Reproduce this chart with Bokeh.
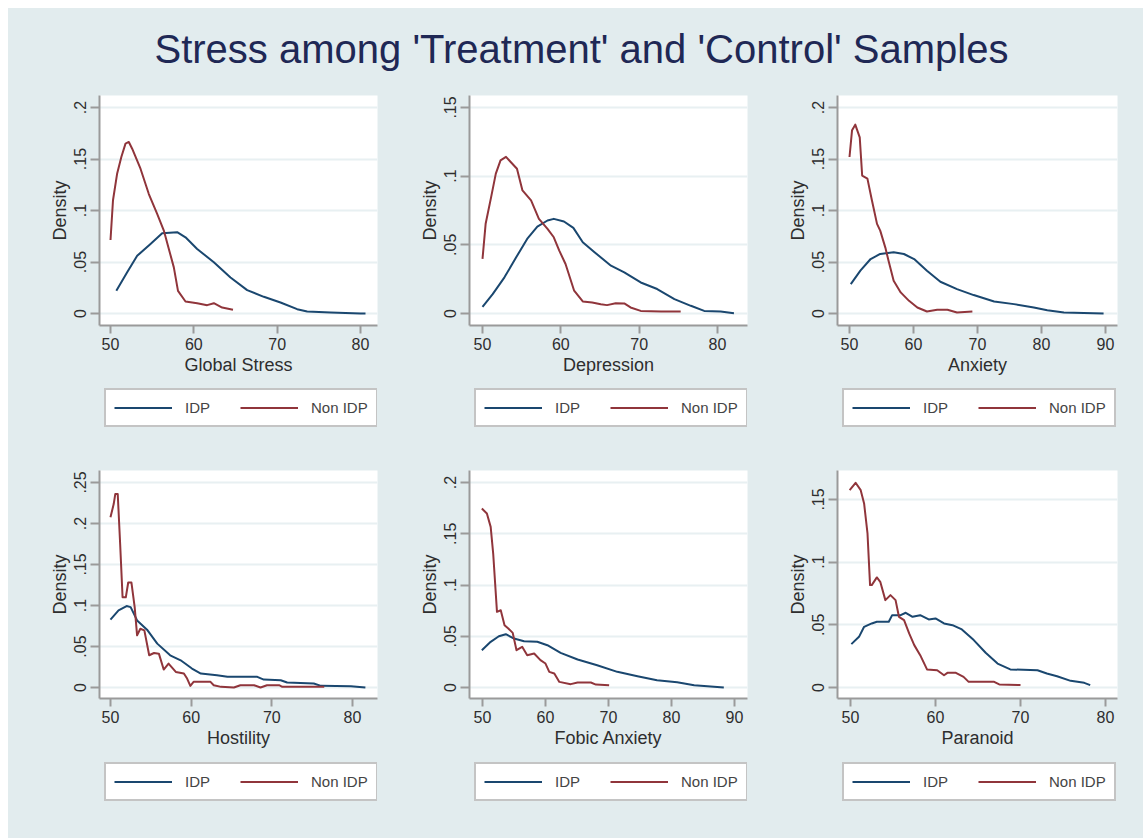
from bokeh.plotting import figure
from bokeh.models import Range1d, FixedTicker, Legend, LegendItem, Label, CustomJSTickFormatter
from bokeh.layouts import column, row
from bokeh.embed import file_html
from bokeh.resources import INLINE

TITLE = "Stress among 'Treatment' and 'Control' Samples"
SERIES = ["IDP", "Non IDP"]
Y_LABEL = "Density"

# ---- Global Stress ----
gs_idp_x = [50.7, 52.0, 53.2, 54.8, 56.2, 58.0, 59.0, 60.4, 62.4, 64.4, 66.4, 68.4, 70.4, 72.4, 73.6, 76.4, 80.0, 80.6]
gs_idp_y = [0.022, 0.040, 0.056, 0.0675, 0.078, 0.079, 0.074, 0.0627, 0.0497, 0.035, 0.0227, 0.0162, 0.0107, 0.0042, 0.002, 0.001, 0.0, 0.0]
gs_non_x = [50.0, 50.3, 50.8, 51.3, 51.8, 52.2, 52.6, 53.6, 54.6, 55.6, 56.4, 57.0, 57.6, 58.1, 59.0, 60.4, 61.6, 62.4, 63.4, 64.7]
gs_non_y = [0.0714, 0.11, 0.136, 0.152, 0.165, 0.1666, 0.16, 0.1406, 0.116, 0.0968, 0.0805, 0.0627, 0.0448, 0.022, 0.0117, 0.01, 0.0081, 0.01, 0.0058, 0.0036]

# ---- Depression ----
dp_idp_x = [50.0, 51.3, 52.8, 54.3, 55.7, 57.0, 58.3, 59.1, 60.4, 61.6, 62.8, 64.3, 66.4, 68.1, 70.2, 72.3, 74.5, 76.6, 78.3, 80.4, 82.1]
dp_idp_y = [0.0049, 0.0141, 0.0263, 0.0409, 0.0543, 0.0633, 0.0677, 0.0689, 0.067, 0.0623, 0.0519, 0.0446, 0.0348, 0.03, 0.0226, 0.0178, 0.0105, 0.0056, 0.0019, 0.0015, 0.0002]
dp_non_x = [50.0, 50.4, 51.1, 51.7, 52.3, 53.0, 53.6, 54.4, 55.1, 56.2, 57.2, 58.3, 59.1, 59.8, 60.6, 61.7, 62.8, 64.0, 65.1, 65.9, 67.0, 68.1, 68.9, 70.2, 72.8, 75.3]
dp_non_y = [0.0397, 0.0653, 0.0847, 0.1018, 0.1115, 0.114, 0.1103, 0.1054, 0.0896, 0.0823, 0.0689, 0.0616, 0.0555, 0.0458, 0.036, 0.0166, 0.0088, 0.008, 0.0068, 0.0061, 0.0075, 0.0073, 0.0044, 0.0019, 0.0015, 0.0015]

# ---- Anxiety ----
ax_idp_x = [50.2, 51.7, 53.3, 54.8, 56.9, 58.5, 60.1, 62.1, 64.2, 66.8, 69.4, 72.6, 75.7, 78.8, 80.9, 83.5, 89.7]
ax_idp_y = [0.0286, 0.0416, 0.0529, 0.0578, 0.0594, 0.0578, 0.0529, 0.0416, 0.0308, 0.0237, 0.0179, 0.0117, 0.0091, 0.0058, 0.0032, 0.001, 0.0]
ax_non_x = [50.0, 50.4, 50.9, 51.6, 51.98, 52.8, 53.5, 54.3, 54.8, 55.6, 56.1, 56.9, 58.0, 59.3, 60.6, 62.1, 63.7, 65.3, 66.8, 69.2]
ax_non_y = [0.152, 0.178, 0.1834, 0.171, 0.134, 0.131, 0.11, 0.087, 0.0805, 0.064, 0.0513, 0.0318, 0.0205, 0.0123, 0.0058, 0.0019, 0.0036, 0.0036, 0.001, 0.0019]

# ---- Hostility ----
ho_idp_x = [50.0, 51.0, 52.0, 52.5, 53.3, 54.6, 55.8, 57.4, 58.7, 60.1, 61.2, 63.2, 64.5, 68.2, 69.0, 71.1, 71.9, 75.2, 76.1, 79.8, 81.6]
ho_idp_y = [0.0827, 0.094, 0.0993, 0.098, 0.0818, 0.0697, 0.0535, 0.0393, 0.0332, 0.0231, 0.017, 0.015, 0.013, 0.013, 0.0097, 0.0089, 0.0061, 0.0049, 0.002, 0.0016, 0.0]
ho_non_x = [50.0, 50.4, 50.6, 50.9, 51.2, 51.5, 51.9, 52.2, 52.6, 53.0, 53.3, 53.7, 54.2, 54.8, 55.4, 56.0, 56.6, 57.2, 58.1, 59.1, 59.5, 59.9, 60.3, 62.4, 62.8, 63.7, 65.3, 66.1, 67.8, 68.6, 69.4, 70.9, 71.3, 73.6, 76.5]
ho_non_y = [0.2075, 0.2237, 0.236, 0.236, 0.175, 0.11, 0.11, 0.128, 0.128, 0.098, 0.0636, 0.0717, 0.0697, 0.0393, 0.0421, 0.0413, 0.0219, 0.0292, 0.019, 0.017, 0.0109, 0.002, 0.0069, 0.0069, 0.0028, 0.0008, 0.0, 0.0028, 0.0028, 0.0, 0.0028, 0.0028, 0.0008, 0.0008, 0.0008]

# ---- Fobic Anxiety ----
fa_idp_x = [49.9, 51.3, 52.6, 53.7, 55.0, 56.6, 58.7, 60.3, 62.4, 65.1, 68.2, 71.4, 74.6, 77.7, 80.9, 83.6, 88.3]
fa_idp_y = [0.0364, 0.0446, 0.05, 0.052, 0.0478, 0.0452, 0.0446, 0.0413, 0.0338, 0.0273, 0.0218, 0.0153, 0.0111, 0.0072, 0.0052, 0.0023, 0.0]
fa_non_x = [49.9, 50.7, 51.3, 51.7, 52.3, 52.9, 53.5, 54.1, 54.8, 55.4, 56.3, 57.1, 58.2, 59.2, 60.0, 60.6, 61.4, 62.2, 64.0, 65.1, 67.2, 68.0, 70.1]
fa_non_y = [0.1746, 0.1698, 0.1567, 0.1307, 0.0738, 0.0754, 0.0608, 0.0576, 0.0533, 0.0364, 0.0397, 0.0315, 0.0332, 0.0267, 0.0234, 0.0153, 0.0137, 0.0055, 0.0033, 0.0049, 0.0049, 0.0029, 0.0023]

# ---- Paranoid ----
pa_idp_x = [50.1, 51.0, 51.6, 52.5, 53.1, 54.5, 54.9, 55.9, 56.5, 57.3, 58.2, 59.2, 60.0, 61.0, 62.0, 63.1, 64.5, 65.9, 67.3, 68.8, 72.0, 73.1, 74.3, 75.9, 77.5, 78.2]
pa_idp_y = [0.0346, 0.0404, 0.0484, 0.0511, 0.0524, 0.0524, 0.0577, 0.0577, 0.0596, 0.0564, 0.0577, 0.0543, 0.0551, 0.0511, 0.0497, 0.0463, 0.0378, 0.0277, 0.0191, 0.0144, 0.0138, 0.0112, 0.009, 0.0053, 0.0037, 0.0019]
pa_non_x = [49.9, 50.6, 51.2, 51.6, 52.0, 52.3, 52.5, 53.1, 53.5, 54.1, 54.7, 55.3, 55.7, 56.3, 56.9, 57.5, 58.2, 59.0, 60.2, 61.0, 61.4, 62.4, 63.3, 63.9, 65.7, 66.9, 67.5, 70.0]
pa_non_y = [0.1574, 0.1633, 0.1574, 0.1468, 0.1229, 0.0817, 0.0817, 0.0878, 0.0843, 0.0697, 0.0737, 0.0697, 0.0564, 0.0537, 0.0431, 0.0338, 0.0258, 0.0144, 0.0138, 0.0098, 0.0117, 0.0117, 0.0085, 0.0045, 0.0045, 0.0045, 0.0024, 0.0019]

x_labels = ["Global Stress", "Depression", "Anxiety", "Hostility", "Fobic Anxiety", "Paranoid"]
x_ticks = [[50, 60, 70, 80], [50, 60, 70, 80], [50, 60, 70, 80, 90],
           [50, 60, 70, 80], [50, 60, 70, 80, 90], [50, 60, 70, 80]]
y_ticks = [[0, 0.05, 0.1, 0.15, 0.2], [0, 0.05, 0.1, 0.15], [0, 0.05, 0.1, 0.15, 0.2],
           [0, 0.05, 0.1, 0.15, 0.2, 0.25], [0, 0.05, 0.1, 0.15, 0.2], [0, 0.05, 0.1, 0.15]]
x_ranges = [(48.68, 82.04), (48.34, 83.83), (48.125, 91.875),
            (48.64, 83.1), (47.94, 92.06), (48.47, 81.41)]
y_ranges = [(-0.01165, 0.2117), (-0.00874, 0.1587), (-0.01165, 0.2117),
            (-0.0134, 0.2646), (-0.0107, 0.2117), (-0.00878, 0.1731)]
curves = [(gs_idp_x, gs_idp_y, gs_non_x, gs_non_y),
          (dp_idp_x, dp_idp_y, dp_non_x, dp_non_y),
          (ax_idp_x, ax_idp_y, ax_non_x, ax_non_y),
          (ho_idp_x, ho_idp_y, ho_non_x, ho_non_y),
          (fa_idp_x, fa_idp_y, fa_non_x, fa_non_y),
          (pa_idp_x, pa_idp_y, pa_non_x, pa_non_y)]

BG = "#E2ECEE"
C_IDP = "#1A476F"
C_NON = "#90353B"
FONT = "Liberation Sans"
TXT = "#2E2E2E"
AXC = "#9A9A9A"

# layout geometry: (min_border_left, frame_width, min_border_right)
cols = [(91, 278, 6), (86, 278, 8), (82, 280, 26)]
# (border_top, frame_height, border_bottom, legend_strip_height)
rows_geo = [(7, 230, 58, 62), (25, 228, 59, 81)]

ytick_fmt = CustomJSTickFormatter(code="""
if (tick == 0) return "0";
let s = tick.toFixed(2);
s = s.replace(/^0/, "");
if (s.endsWith("0")) s = s.slice(0, -1);
return s;
""")


def bare_figure(w, h, left=0, right=0):
    f = figure(width=w, height=h, x_range=Range1d(0, 1), y_range=Range1d(0, 1),
               x_axis_location=None, y_axis_location=None,
               toolbar_location=None, output_backend="svg", sizing_mode="fixed",
               min_border=0, min_border_left=left, min_border_right=right,
               min_border_top=0, min_border_bottom=0)
    f.grid.visible = False
    f.outline_line_color = None
    f.background_fill_color = BG
    f.border_fill_color = BG
    return f


def make_panel(i):
    bl, fw, br = cols[i % 3]
    bt, fh, bb, lh = rows_geo[i // 3]
    W = bl + fw + br
    p = figure(width=W, height=bt + fh + bb,
               min_border_left=bl, min_border_right=br,
               min_border_top=bt, min_border_bottom=bb,
               x_range=Range1d(*x_ranges[i]), y_range=Range1d(*y_ranges[i]),
               toolbar_location=None, output_backend="svg", sizing_mode="fixed")
    p.background_fill_color = "white"
    p.border_fill_color = BG
    p.outline_line_color = None

    ix, iy, nx, ny = curves[i]
    p.line(ix, iy, line_color=C_IDP, line_width=2, line_join="round")
    p.line(nx, ny, line_color=C_NON, line_width=2, line_join="round")

    xa = p.xaxis[0]
    xa.ticker = FixedTicker(ticks=x_ticks[i])
    xa.axis_label = x_labels[i]
    ya = p.yaxis[0]
    ya.ticker = FixedTicker(ticks=y_ticks[i])
    ya.formatter = ytick_fmt
    ya.axis_label = Y_LABEL
    ya.major_label_orientation = "vertical"
    for a in (xa, ya):
        a.axis_line_color = AXC
        a.axis_line_width = 2
        a.major_tick_line_color = AXC
        a.major_tick_line_width = 2
        a.major_tick_in = 0
        a.minor_tick_line_color = None
        a.major_label_text_font = FONT
        a.major_label_text_font_size = "16px"
        a.major_label_text_color = TXT
        a.axis_label_text_font = FONT
        a.axis_label_text_font_size = "18px"
        a.axis_label_text_font_style = "normal"
        a.axis_label_text_color = TXT
    xa.major_tick_out = 8
    xa.major_label_standoff = 4
    xa.axis_label_standoff = 2
    ya.major_tick_out = 9
    ya.major_label_standoff = 4
    ya.axis_label_standoff = 2

    p.xgrid.visible = False
    p.ygrid.ticker = FixedTicker(ticks=y_ticks[i])
    p.ygrid.grid_line_color = "#E8F0F2"
    p.ygrid.grid_line_width = 2

    # legend strip below the panel; its frame is aligned with the panel's frame
    lf = bare_figure(W, lh, left=bl, right=br)
    nan = float("nan")
    k1 = lf.line(x=[nan], y=[nan], line_color=C_IDP, line_width=2)
    k2 = lf.line(x=[nan], y=[nan], line_color=C_NON, line_width=2)
    leg = Legend(items=[LegendItem(label=SERIES[0], renderers=[k1]),
                        LegendItem(label=SERIES[1], renderers=[k2])],
                 orientation="horizontal", location="top_left")
    leg.margin = 5
    leg.padding = 8
    leg.spacing = 10
    leg.glyph_width = 58
    leg.glyph_height = 19
    leg.label_height = 19
    leg.label_width = 45
    leg.label_standoff = 13
    leg.label_text_font = FONT
    leg.label_text_font_size = "15px"
    leg.label_text_color = "#444444"
    leg.background_fill_color = "white"
    leg.background_fill_alpha = 1
    leg.border_line_color = "#8A8A8A"
    leg.border_line_width = 2
    lf.add_layout(leg, "center")
    return column(p, lf, spacing=0, sizing_mode="fixed")


panels = [make_panel(i) for i in range(6)]

tf = bare_figure(1135, 80)
tf.add_layout(Label(x=0.5048, y=0.5, text=TITLE, text_align="center", text_baseline="middle",
                    text_font=FONT, text_font_size="40px", text_color="#1F2855"))

root = column(tf, row(*panels[:3], spacing=0, sizing_mode="fixed", styles={"background-color": BG}),
              row(*panels[3:], spacing=0, sizing_mode="fixed", styles={"background-color": BG}),
              spacing=0, sizing_mode="fixed", styles={"background-color": BG})
root.margin = (8, 0, 0, 8)

open("out.html", "w").write(file_html(root, INLINE))
